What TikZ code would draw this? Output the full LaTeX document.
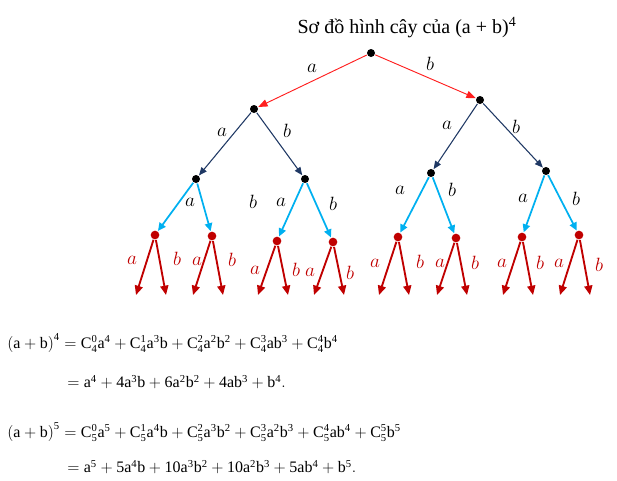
\documentclass[tikz,border=0pt]{standalone}
\usepackage{fontspec}
\setmainfont{Liberation Serif}
\usetikzlibrary{arrows.meta}
\definecolor{topred}{RGB}{255,30,30}
\definecolor{navyblue}{RGB}{31,56,100}
\definecolor{skyblue}{RGB}{0,176,240}
\definecolor{darkred}{RGB}{192,0,0}

\begin{document}
\begin{tikzpicture}[x=0.75pt,y=-0.75pt]
    \def\labelSize{\fontsize{14}{16}\selectfont}
    \def\eqSize{\fontsize{12}{14}\selectfont}

    \tikzstyle{dot}=[circle,fill=black,inner sep=0pt,minimum size=6pt,outer sep=0.5pt]
    \tikzstyle{reddot}=[dot,fill=darkred,minimum size=6.5pt]
    \tikzstyle{lvlzero}=[draw=topred,line width=0.7pt,-{Triangle[length=7pt,width=5.5pt]},topred]
    \tikzstyle{lvlone}=[draw=navyblue,line width=0.8pt,-{Triangle[length=6pt,width=5pt]},navyblue]
    \tikzstyle{lvltwo}=[draw=skyblue,line width=1.3pt,-{Triangle[length=6pt,width=5.5pt]},skyblue]
    \tikzstyle{leaf}=[draw=darkred,line width=1.4pt,-{Triangle[length=7pt,width=6pt]},darkred]
    \tikzstyle{lbl}=[font=\labelSize,inner sep=0pt]
    \tikzstyle{redlbl}=[lbl,text=darkred]
    \tikzstyle{eqline}=[font=\eqSize,anchor=west,inner sep=0pt]

    \useasboundingbox (0,0) rectangle (617,480);

    % Title
    \node[font=\fontsize{15}{17}\selectfont] (title) at (407,28) {Sơ đồ hình cây của (a + b)\textsuperscript{4}};

    % Dots
    \node[dot] (n0) at (371,53) {};
    \node[dot] (n1) at (254,109) {};
    \node[dot] (n2) at (480,100) {};
    \node[dot] (n11) at (196,179) {};
    \node[dot] (n12) at (305,179) {};
    \node[dot] (n21) at (431,173) {};
    \node[dot] (n22) at (546,171) {};

    % Edges
    \draw[lvlzero] (n0) -- (n1);
    \draw[lvlzero] (n0) -- (n2);
    \draw[lvlone] (n1) -- (n11);
    \draw[lvlone] (n1) -- (n12);
    \draw[lvlone] (n2) -- (n21);
    \draw[lvlone] (n2) -- (n22);

    % Edge labels
    \node[lbl] (l0a) at (312,68) {$a$};
    \node[lbl] (l0b) at (430,64) {$b$};
    \node[lbl] (l1a) at (222,132) {$a$};
    \node[lbl] (l1b) at (287,131) {$b$};
    \node[lbl] (l2a) at (447,125) {$a$};
    \node[lbl] (l2b) at (516,127) {$b$};

    % Third level and leaves
    \foreach \p/\n/\x/\y/\ax/\ay/\bx/\by in {n11/n111/155/235/132/260/177/259, n11/n112/212/236/197/261/232/260,
        n12/n121/277/241/255/270/296/270, n12/n122/333/242/310/272/350/273,
        n21/n211/398/237/375/263/420/262, n21/n212/456/238/440/263/475/263,
        n22/n221/522/237/502/263/540/263, n22/n222/579/235/559/263/599/265}
    {
        \node[reddot] (\n) at (\x,\y) {};
        \draw[lvltwo] (\p) -- (\n);
        \coordinate (\n a) at (\x-19,295);
        \coordinate (\n b) at (\x+11,295);
        \draw[leaf] (\n) -- (\n a);
        \draw[leaf] (\n) -- (\n b);
        \node[redlbl] (\n la) at (\ax,\ay) {$a$};
        \node[redlbl] (\n lb) at (\bx,\by) {$b$};
    }

    \node[lbl] (l11a) at (190,202) {$a$};
    \node[lbl] (l11b) at (253,202) {$b$};
    \node[lbl] (l12a) at (281,202) {$a$};
    \node[lbl] (l12b) at (333,204) {$b$};
    \node[lbl] (l21a) at (400,190) {$a$};
    \node[lbl] (l21b) at (452,190) {$b$};
    \node[lbl] (l22a) at (523,198) {$a$};
    \node[lbl] (l22b) at (576,199) {$b$};

    % Formulas
    \node[eqline] (eq1) at (7,343) {$\mathrm{\bigl(a+b\bigr)^4 = C_4^0a^4+C_4^1a^3b+C_4^2a^2b^2+C_4^3ab^3+C_4^4b^4}$};
    \node[eqline] (eq2) at (67,382) {$\mathrm{= a^4+4a^3b+6a^2b^2+4ab^3+b^4.}$};
    \node[eqline] (eq3) at (7,432) {$\mathrm{\bigl(a+b\bigr)^5 = C_5^0a^5+C_5^1a^4b+C_5^2a^3b^2+C_5^3a^2b^3+C_5^4ab^4+C_5^5b^5}$};
    \node[eqline] (eq4) at (67,467) {$\mathrm{= a^5+5a^4b+10a^3b^2+10a^2b^3+5ab^4+b^5.}$};
\end{tikzpicture}
\end{document}
